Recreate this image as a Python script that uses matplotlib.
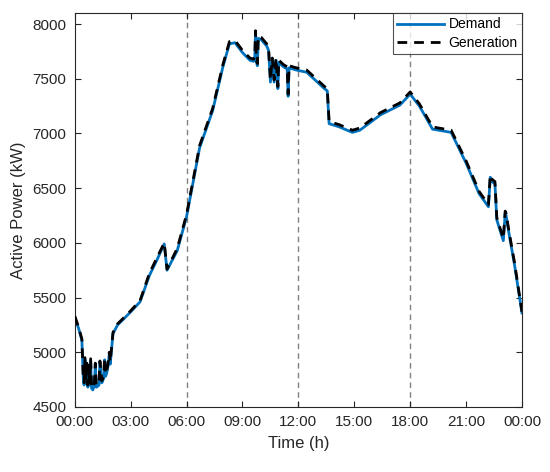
import matplotlib
matplotlib.use("Agg")
import matplotlib.pyplot as plt

# Time of day (h) and active power (kW)
hours = [0.0, 0.2, 0.38, 0.45, 0.5, 0.55, 0.6, 0.65, 0.7, 0.75, 0.8, 0.85,
         0.9, 0.97, 1.05, 1.1, 1.15, 1.2, 1.3, 1.35, 1.45, 1.55, 1.6, 1.65,
         1.7, 1.77, 1.85, 1.9, 2.05, 2.3, 2.6, 2.95, 3.5, 4.0, 4.4, 4.8,
         4.95, 5.5, 6.0, 6.3, 6.7, 7.4, 7.95, 8.3, 8.6, 9.0, 9.4, 9.6,
         9.66, 9.7, 9.75, 9.8, 9.85, 10.0, 10.3, 10.4, 10.5, 10.6, 10.7,
         10.8, 10.9, 10.95, 11.2, 11.4, 11.45, 11.5, 11.9, 12.45, 13.4,
         13.55, 13.65, 14.2, 14.9, 15.3, 16.4, 17.45, 18.0, 18.5, 19.2,
         20.2, 21.0, 21.7, 22.2, 22.3, 22.4, 22.55, 22.65, 23.0, 23.1,
         23.15, 23.3, 23.6, 24.0]

demand = [5320, 5220, 5110, 4780, 4700, 4930, 4720, 4880, 4680, 4860,
          4700, 4920, 4670, 4655, 4700, 4880, 4680, 4685, 4700, 4900,
          4720, 4760, 4930, 4780, 4800, 4860, 4980, 4890, 5170, 5250,
          5300, 5360, 5460, 5700, 5840, 5990, 5750, 5930, 6240, 6510,
          6870, 7210, 7610, 7820, 7830, 7740, 7670, 7660, 7690, 7920,
          7650, 7620, 7870, 7860, 7800, 7760, 7470, 7670, 7470, 7670,
          7410, 7650, 7610, 7590, 7340, 7600, 7580, 7560, 7410, 7390,
          7090, 7060, 7010, 7030, 7170, 7260, 7360, 7250, 7040, 7010,
          6730, 6450, 6330, 6600, 6560, 6540, 6210, 6020, 6270, 6250,
          6090, 5800, 5360]

generation = [5330, 5230, 5120, 4800, 4720, 4950, 4740, 4900, 4700, 4880,
              4720, 4940, 4690, 4670, 4720, 4900, 4700, 4700, 4720, 4920,
              4740, 4780, 4950, 4800, 4820, 4880, 5000, 4910, 5180, 5260,
              5310, 5370, 5470, 5720, 5860, 6000, 5760, 5950, 6260, 6530,
              6890, 7230, 7630, 7840, 7850, 7760, 7690, 7680, 7700, 7940,
              7670, 7640, 7890, 7880, 7820, 7780, 7490, 7690, 7490, 7690,
              7430, 7670, 7630, 7610, 7360, 7620, 7600, 7580, 7430, 7410,
              7110, 7080, 7030, 7050, 7190, 7280, 7380, 7270, 7060, 7030,
              6750, 6470, 6350, 6620, 6580, 6560, 6230, 6040, 6290, 6270,
              6110, 5820, 5370]

tick_hours = [0, 3, 6, 9, 12, 15, 18, 21, 24]
tick_labels = ["00:00", "03:00", "06:00", "09:00", "12:00", "15:00",
               "18:00", "21:00", "00:00"]
marker_hours = [6, 12, 18]

plt.rcParams['font.family'] = ['Liberation Sans', 'DejaVu Sans']

fig = plt.figure(figsize=(5.5, 4.72), dpi=100)
ax = fig.add_axes([0.136, 0.138, 0.813, 0.834])

for h in marker_hours:
    ax.axvline(h, color='#808080', linestyle=(0, (4, 3)), linewidth=1.0, zorder=1)

ax.plot(hours, demand, color='#0072BD', linewidth=2.0, label='Demand', zorder=2)
ax.plot(hours, generation, color='black', linewidth=2.0,
        linestyle=(0, (3.5, 2.5)), label='Generation', zorder=3)

ax.set_xlim(0, 24)
ax.set_ylim(4500, 8100)
ax.set_xticks(tick_hours)
ax.set_xticklabels(tick_labels)
ax.set_yticks(range(4500, 8001, 500))

ax.tick_params(direction='in', top=True, right=True, length=4,
               width=0.8, colors='#262626', labelsize=11, pad=6)
for s in ax.spines.values():
    s.set_color('#262626')
    s.set_linewidth(0.8)

ax.set_xlabel('Time (h)', fontsize=12, color='#262626', labelpad=5)
ax.set_ylabel('Active Power (kW)', fontsize=12, color='#262626', labelpad=5)

leg = ax.legend(loc='upper right', fontsize=10, frameon=True, fancybox=False,
                edgecolor='#262626', borderaxespad=0, handlelength=3.4,
                borderpad=0.3, labelspacing=0.35, handletextpad=0.3)
leg.get_frame().set_linewidth(0.8)

fig.savefig('out.png', dpi=100, facecolor='white')
